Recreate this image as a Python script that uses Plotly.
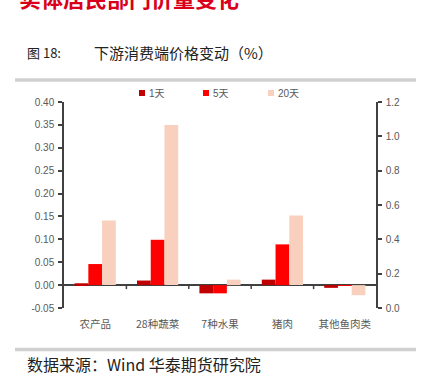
import plotly.graph_objects as go

categories = ["农产品", "28种蔬菜", "7种水果", "猪肉", "其他鱼肉类"]
series_names = ["1天", "5天", "20天"]
v_1d = [0.004, 0.010, -0.018, 0.012, -0.006]
v_5d = [0.046, 0.099, -0.018, 0.089, -0.001]
v_20d = [0.141, 0.350, 0.012, 0.152, -0.022]
colors = ["#C00000", "#FF0000", "#F9D0BE"]
left_ticks = [-0.05, 0.0, 0.05, 0.10, 0.15, 0.20, 0.25, 0.30, 0.35, 0.40]
left_ticklabels = ["-0.05", "0.00", "0.05", "0.10", "0.15", "0.20", "0.25", "0.30", "0.35", "0.40"]
right_ticks = [0.0, 0.2, 0.4, 0.6, 0.8, 1.0, 1.2]
right_ticklabels = ["0.0", "0.2", "0.4", "0.6", "0.8", "1.0", "1.2"]

W, H = 423, 380
L, R, T, B = 64, 47, 102, 72
pw, ph = W - L - R, H - T - B

def px(x):
    return (x - L) / pw

def py(y):
    return (H - B - y) / ph

fig = go.Figure()
for name, vals, col in zip(series_names, [v_1d, v_5d, v_20d], colors):
    fig.add_trace(go.Bar(x=categories, y=vals, name=name, marker_color=col,
                         marker_line_width=0, showlegend=False, yaxis="y"))
# empty trace so the secondary (right) axis is drawn
fig.add_trace(go.Scatter(x=[categories[0]], y=[None], yaxis="y2", mode="markers",
                         showlegend=False, hoverinfo="skip"))

gray = "#595959"
axcol = "#404040"
fig.update_layout(
    width=W, height=H,
    margin=dict(l=L, r=R, t=T, b=B, pad=0, autoexpand=False),
    paper_bgcolor="white", plot_bgcolor="white",
    barmode="group", bargap=0.34, bargroupgap=0.0,
    font=dict(family="Liberation Sans, Noto Sans CJK SC", size=10, color=gray),
    showlegend=False,
    xaxis=dict(type="category", categoryarray=categories, showline=False, ticks="",
               showgrid=False, zeroline=False, automargin=False,
               tickfont=dict(family="Noto Sans CJK SC", size=10.5, color=gray),
               ticklabelstandoff=8),
    yaxis=dict(range=[-0.05, 0.40], tickvals=left_ticks, ticktext=left_ticklabels,
               showline=True, linecolor=axcol, linewidth=1.5, ticks="outside",
               ticklen=4, tickcolor=axcol, tickwidth=1.5, showgrid=False,
               zeroline=True, zerolinecolor=axcol, zerolinewidth=1.5, automargin=False,
               tickfont=dict(family="Liberation Sans", size=10, color=gray),
               ticklabelstandoff=2),
    yaxis2=dict(range=[0, 1.2], tickvals=right_ticks, ticktext=right_ticklabels,
                overlaying="y", side="right", anchor="x",
                showline=True, linecolor=axcol, linewidth=1.5, ticks="outside",
                ticklen=4, tickcolor=axcol, tickwidth=1.5, showgrid=False,
                zeroline=False, automargin=False,
                tickfont=dict(family="Liberation Sans", size=10, color=gray),
                ticklabelstandoff=2),
)

# category boundary ticks on the zero line
for i in range(len(categories) - 1):
    fig.add_shape(type="line", xref="x", yref="y", x0=i + 0.5, x1=i + 0.5,
                  ysizemode="pixel", yanchor=0, y0=0, y1=-4,
                  line=dict(color=axcol, width=1.5))

# separators
for yy in [80, 349.5]:
    fig.add_shape(type="line", xref="paper", yref="paper", x0=px(15), x1=px(416),
                  y0=py(yy), y1=py(yy), line=dict(color="#D0D0D0", width=3.5))

# legend (keys + labels)
leg_x = [142, 206, 271]
for name, col, lx in zip(series_names, colors, leg_x):
    fig.add_shape(type="rect", xref="paper", yref="paper",
                  x0=px(lx - 3), x1=px(lx + 3), y0=py(96), y1=py(90),
                  fillcolor=col, line_width=0)
    fig.add_annotation(xref="paper", yref="paper", showarrow=False, text=name,
                       x=px(lx + 5), y=py(93), xanchor="left", yanchor="middle",
                       font=dict(family="Liberation Sans, Noto Sans CJK SC", size=10, color=gray))

ann = [
    dict(text="实体居民部门价量变化", x=px(17), y=py(-3), xanchor="left", yanchor="middle",
         font=dict(family="Noto Sans CJK SC", size=22, color="#D9001B", weight="bold")),
    dict(text="图 18:", x=px(25), y=py(52), xanchor="left", yanchor="middle",
         font=dict(family="Noto Sans CJK SC", size=13, color="#222222")),
    dict(text="下游消费端价格变动（%）", x=px(92), y=py(52), xanchor="left", yanchor="middle",
         font=dict(family="Noto Sans CJK SC", size=15, color="#222222")),
    dict(text="数据来源：Wind 华泰期货研究院", x=px(25), y=py(364), xanchor="left",
         yanchor="middle",
         font=dict(family="Noto Sans CJK SC", size=16, color="#222222")),
]
for a in ann:
    fig.add_annotation(xref="paper", yref="paper", showarrow=False, **a)

fig.write_html("out.html", config={"displayModeBar": False},
               post_script="document.body.style.margin='0';document.body.style.overflow='hidden';")
